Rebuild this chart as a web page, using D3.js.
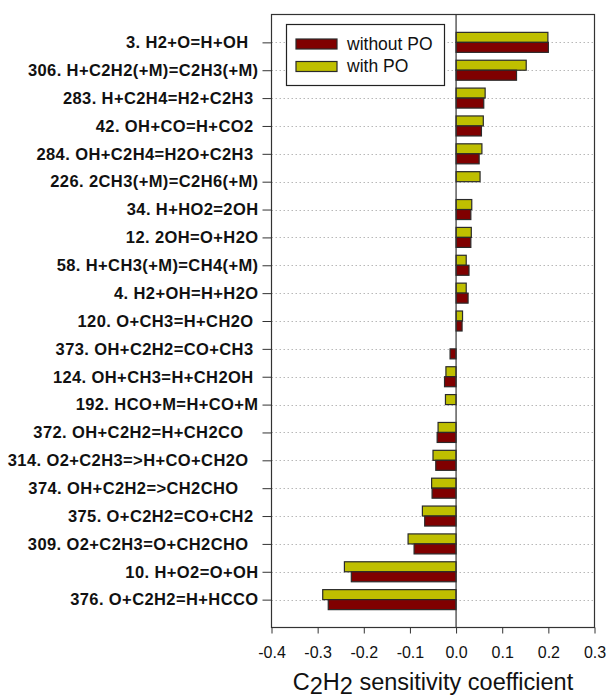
<!DOCTYPE html>
<html><head><meta charset="utf-8">
<script src="https://cdn.jsdelivr.net/npm/d3@7"></script>
<style>body{margin:0;background:#fff}</style>
</head><body>
<svg id="c" width="609" height="700"></svg>
<script>
const reactions = [
  "3. H2+O=H+OH  ",
  "306. H+C2H2(+M)=C2H3(+M)",
  "283. H+C2H4=H2+C2H3 ",
  "42. OH+CO=H+CO2 ",
  "284. OH+C2H4=H2O+C2H3 ",
  "226. 2CH3(+M)=C2H6(+M)",
  "34. H+HO2=2OH",
  "12. 2OH=O+H2O",
  "58. H+CH3(+M)=CH4(+M)",
  "4. H2+OH=H+H2O",
  "120. O+CH3=H+CH2O ",
  "373. OH+C2H2=CO+CH3 ",
  "124. OH+CH3=H+CH2OH ",
  "192. HCO+M=H+CO+M",
  "372. OH+C2H2=H+CH2CO   ",
  "314. O2+C2H3=>H+CO+CH2O  ",
  "374. OH+C2H2=>CH2CHO    ",
  "375. O+C2H2=CO+CH2 ",
  "309. O2+C2H3=O+CH2CHO  ",
  "10. H+O2=O+OH",
  "376. O+C2H2=H+HCCO"
];
const withoutPO = [0.200, 0.131, 0.060, 0.055, 0.050, 0.000, 0.032, 0.032, 0.028, 0.026, 0.013,
  -0.013, -0.025, 0.000, -0.041, -0.044, -0.052, -0.068, -0.091, -0.227, -0.277];
const withPO = [0.199, 0.152, 0.063, 0.059, 0.056, 0.052, 0.034, 0.033, 0.022, 0.022, 0.014,
  0.000, -0.022, -0.023, -0.039, -0.050, -0.053, -0.073, -0.104, -0.242, -0.289];
const xTicks = [-0.4, -0.3, -0.2, -0.1, 0.0, 0.1, 0.2, 0.3];
const seriesNames = ["without PO", "with PO"];
const seriesColors = ["#800000", "#bfbf00"];

const svg = d3.select("#c");
const L = 271.5, R = 594.5, T = 14.5, B = 627.5;
const x = d3.scaleLinear().domain([-0.4, 0.3]).range([L, R]);
const y = d3.scalePoint().domain(reactions).range([T, B]).padding(1);
const bh = 10;
const FONT = "Arial, 'Liberation Sans', sans-serif";

// gridlines
svg.append("g").selectAll("line").data(reactions).join("line")
  .attr("x1", L).attr("x2", R)
  .attr("y1", d => Math.round(y(d)) + 0.5).attr("y2", d => Math.round(y(d)) + 0.5)
  .attr("stroke", "#b8b8b8").attr("stroke-width", 1).attr("stroke-dasharray", "1.5,2.5");

// bars: with PO above, without PO below
const rows = reactions.map((r, i) => ({ r, w: withPO[i], wo: withoutPO[i] }));
const g = svg.append("g");
g.selectAll("rect.w").data(rows.filter(d => d.w !== 0)).join("rect").attr("class", "w")
  .attr("x", d => Math.min(x(0), x(d.w)))
  .attr("width", d => Math.abs(x(d.w) - x(0)))
  .attr("y", d => y(d.r) - bh)
  .attr("height", bh)
  .attr("fill", seriesColors[1]).attr("stroke", "#2a2a2a").attr("stroke-width", 1.2);
g.selectAll("rect.wo").data(rows.filter(d => d.wo !== 0)).join("rect").attr("class", "wo")
  .attr("x", d => Math.min(x(0), x(d.wo)))
  .attr("width", d => Math.abs(x(d.wo) - x(0)))
  .attr("y", d => y(d.r))
  .attr("height", bh)
  .attr("fill", seriesColors[0]).attr("stroke", "#2a2a2a").attr("stroke-width", 1.2);

// zero line
svg.append("line").attr("x1", x(0)).attr("x2", x(0)).attr("y1", T).attr("y2", B)
  .attr("stroke", "#333").attr("stroke-width", 1.2);

// frame
svg.append("rect").attr("x", L).attr("y", T).attr("width", R - L).attr("height", B - T)
  .attr("fill", "none").attr("stroke", "#333").attr("stroke-width", 1.2);

// y axis
const ya = svg.append("g").attr("transform", `translate(${L},0)`)
  .call(d3.axisLeft(y).tickSize(9).tickPadding(4));
ya.select(".domain").remove();
ya.selectAll(".tick line").attr("stroke", "#333");
ya.selectAll("text").attr("font-family", FONT)
  .attr("font-weight", "bold").attr("font-size", 16.5).attr("fill", "#111")
  .attr("letter-spacing", 0.4)
  .style("white-space", "pre");

// x axis
const xa = svg.append("g").attr("transform", `translate(0,${B})`)
  .call(d3.axisBottom(x).tickValues(xTicks).tickSize(6).tickPadding(13).tickFormat(d => d.toFixed(1)));
xa.select(".domain").remove();
xa.selectAll(".tick line").attr("stroke", "#333");
xa.selectAll("text").attr("font-family", FONT)
  .attr("font-size", 16).attr("fill", "#111");

// x title
const t = svg.append("text").attr("x", (L + R) / 2).attr("y", 690)
  .attr("text-anchor", "middle").attr("font-family", FONT)
  .attr("font-size", 23.5).attr("fill", "#111");
t.append("tspan").text("C");
t.append("tspan").attr("dy", 3.5).text("2");
t.append("tspan").attr("dy", -3.5).text("H");
t.append("tspan").attr("dy", 3.5).text("2");
t.append("tspan").attr("dy", -3.5).text(" sensitivity coefficient");

// legend
const lg = svg.append("g");
lg.append("rect").attr("x", 286.5).attr("y", 24.5).attr("width", 158).attr("height", 61)
  .attr("fill", "#fff").attr("stroke", "#222").attr("stroke-width", 1.2);
seriesNames.forEach((n, i) => {
  const yy = 39 + i * 22.5;
  lg.append("rect").attr("x", 296).attr("y", yy).attr("width", 41).attr("height", 10)
    .attr("fill", seriesColors[i]).attr("stroke", "#2a2a2a").attr("stroke-width", 1.2);
  lg.append("text").attr("x", 347).attr("y", yy + 10.5)
    .attr("font-family", FONT).attr("font-size", 17.5)
    .attr("fill", "#111").text(n);
});
</script>
</body></html>
